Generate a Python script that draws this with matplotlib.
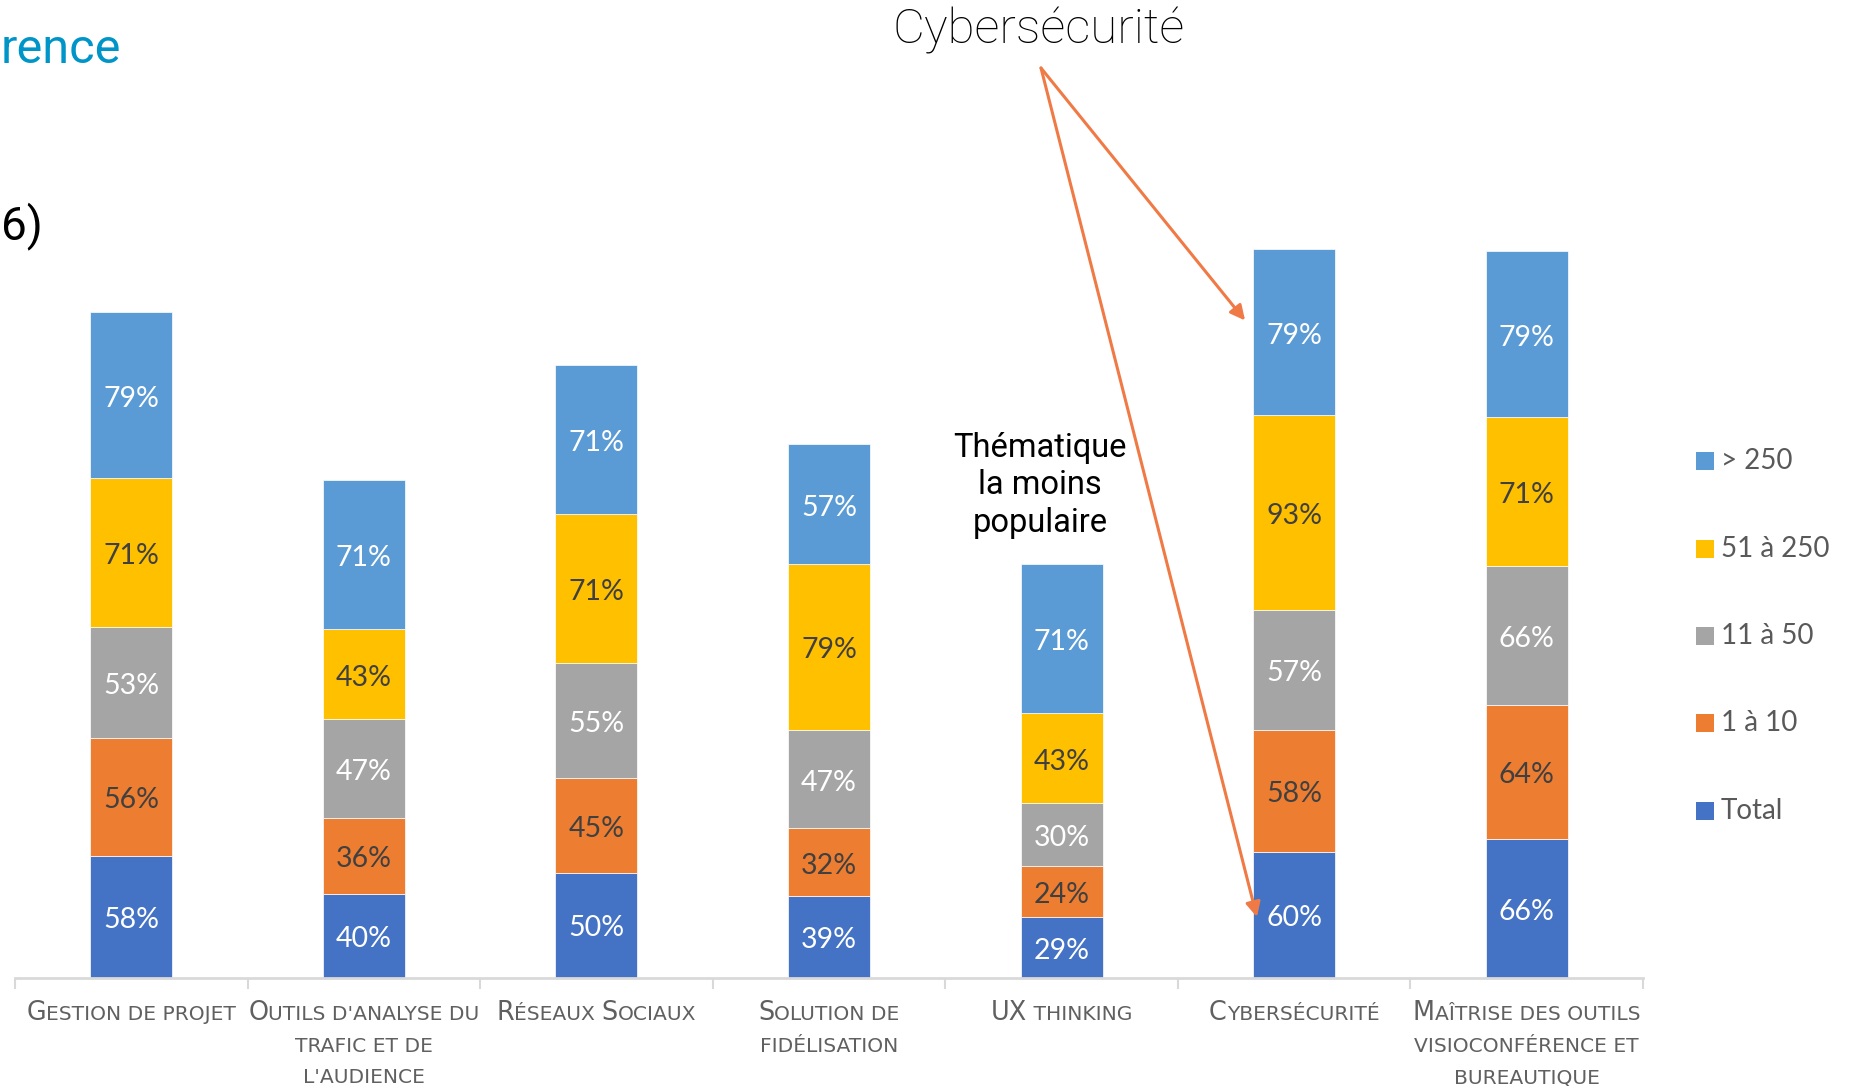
import numpy as np
import matplotlib
matplotlib.use('Agg')
import matplotlib.pyplot as plt
from matplotlib.patches import Rectangle

# --- data ---
categories = ["Gestion de projet",
              "Outils d'analyse du\ntrafic et de\nl'audience",
              "Réseaux Sociaux",
              "Solution de\nfidélisation",
              "UX thinking",
              "Cybersécurité",
              "Maîtrise des outils\nvisioconférence et\nbureautique"]
series_names = ['Total', '1 à 10', '11 à 50', '51 à 250', '> 250']
total = [58, 40, 50, 39, 29, 60, 66]
s_1_10 = [56, 36, 45, 32, 24, 58, 64]
s_11_50 = [53, 47, 55, 47, 30, 57, 66]
s_51_250 = [71, 43, 71, 79, 43, 93, 71]
s_250 = [79, 71, 71, 57, 71, 79, 79]
series = [total, s_1_10, s_11_50, s_51_250, s_250]

colors = ['#4472C4', '#ED7D31', '#A5A5A5', '#FFC000', '#5B9BD5']
label_colors = ['white', '#404040', 'white', '#404040', 'white']

W, H = 1860, 1086
fig = plt.figure(figsize=(W / 100, H / 100), dpi=100)
ax = fig.add_axes([15 / W, 1 - 977.5 / H, 1628 / W, 977.5 / H])

x = np.arange(len(categories))
bw = 0.352
bottom = np.zeros(len(categories))
for vals, col, lc in zip(series, colors, label_colors):
    bars = ax.bar(x, vals, bw, bottom=bottom, color=col, edgecolor='white', linewidth=0.5)
    anns = ax.bar_label(bars, labels=[f'{v}%' for v in vals], label_type='center',
                        color=lc, fontsize=20.5, family=['Lato', 'DejaVu Sans'])
    for a in anns:
        a.xyann = (0, -2.5)
    bottom += np.array(vals)

ax.set_xlim(-0.5, len(categories) - 0.5)
ax.set_ylim(0, 465.7)
for s in ['top', 'right', 'left']:
    ax.spines[s].set_visible(False)
ax.spines['bottom'].set_color('#d9d9d9')
ax.spines['bottom'].set_linewidth(2)
ax.set_yticks([])
ax.set_xticks(np.arange(len(categories) + 1) - 0.5)
ax.set_xticklabels([])
ax.tick_params(axis='x', length=8, width=1.5, color='#d9d9d9')

renderer = fig.canvas.get_renderer()


def smallcaps(xc, y, line, big=18.4, small=14.6, **kw):
    """small caps en plusieurs morceaux, centrés sur xc (pixels)"""
    runs = []
    for ch in line:
        is_big = ch.isupper() or ch.isdigit()
        if runs and runs[-1][1] == is_big:
            runs[-1][0] += ch
        else:
            runs.append([ch, is_big])
    widths = []
    for txt, is_big in runs:
        t = fig.text(0, 0, '|' + txt.upper() + '|', fontsize=big if is_big else small, **kw)
        w1 = t.get_window_extent(renderer).width
        t.set_text('||')
        w0 = t.get_window_extent(renderer).width
        t.remove()
        widths.append(w1 - w0)
    xpos = xc - sum(widths) / 2
    for (txt, is_big), w in zip(runs, widths):
        fig.text(xpos / W, 1 - y / H, txt.upper(), fontsize=big if is_big else small,
                 ha='left', va='baseline', **kw)
        xpos += w


cat_font = dict(family=['Liberation Sans Narrow', 'DejaVu Sans'], color='#606060')
for i, cat in enumerate(categories):
    xc = ax.transData.transform((x[i], 0))[0]
    for j, line in enumerate(cat.split('\n')):
        smallcaps(xc, 1020 + j * 31.5, line, **cat_font)

# legende
leg_y = [461, 549, 636, 723, 811]
for name, col, yy in zip(series_names[::-1], colors[::-1], leg_y):
    fig.patches.append(Rectangle((1696 / W, 1 - (yy + 9) / H), 18 / W, 18 / H,
                                 transform=fig.transFigure, facecolor=col, edgecolor='none'))
    fig.text(1721 / W, 1 - yy / H, name, fontsize=20, color='#595959',
             family=['Lato', 'DejaVu Sans'], va='center', ha='left')

# textes autour
fig.text(1 / W, 1 - 63 / H, 'rence', fontsize=35, color='#0095C8',
         family=['Roboto', 'DejaVu Sans'], ha='left', va='baseline')
fig.text(1 / W, 1 - 239 / H, '6)', fontsize=33, color='black',
         family=['Roboto', 'DejaVu Sans'], ha='left', va='baseline')
fig.text(1039 / W, 1 - 43 / H, 'Cybersécurité', fontsize=35.5, color='black',
         fontweight='light', family=['Roboto', 'DejaVu Sans'], ha='center', va='baseline')
for j, line in enumerate(['Thématique', 'la moins', 'populaire']):
    fig.text(1040 / W, 1 - (457 + 37.5 * j) / H, line, fontsize=23.5,
             color='black', family=['Roboto', 'DejaVu Sans'], ha='center', va='baseline')

# fleches vers la barre Cybersécurité
k = categories.index('Cybersécurité')
base_250 = total[k] + s_1_10[k] + s_11_50[k] + s_51_250[k]
arrow = dict(arrowstyle='-|>', color='#F07A45', lw=2.2, mutation_scale=22, shrinkA=0, shrinkB=0)
ax.annotate('', xy=(x[k] - bw / 2 - 0.035, base_250 + 0.57 * s_250[k]), xycoords='data',
            xytext=(1041, H - 68), textcoords='figure pixels', arrowprops=arrow,
            annotation_clip=False)
ax.annotate('', xy=(x[k] - bw / 2 + 0.016, total[k] * 0.48), xycoords='data',
            xytext=(1041, H - 68), textcoords='figure pixels', arrowprops=arrow,
            annotation_clip=False)

fig.savefig('out.png', dpi=100)
